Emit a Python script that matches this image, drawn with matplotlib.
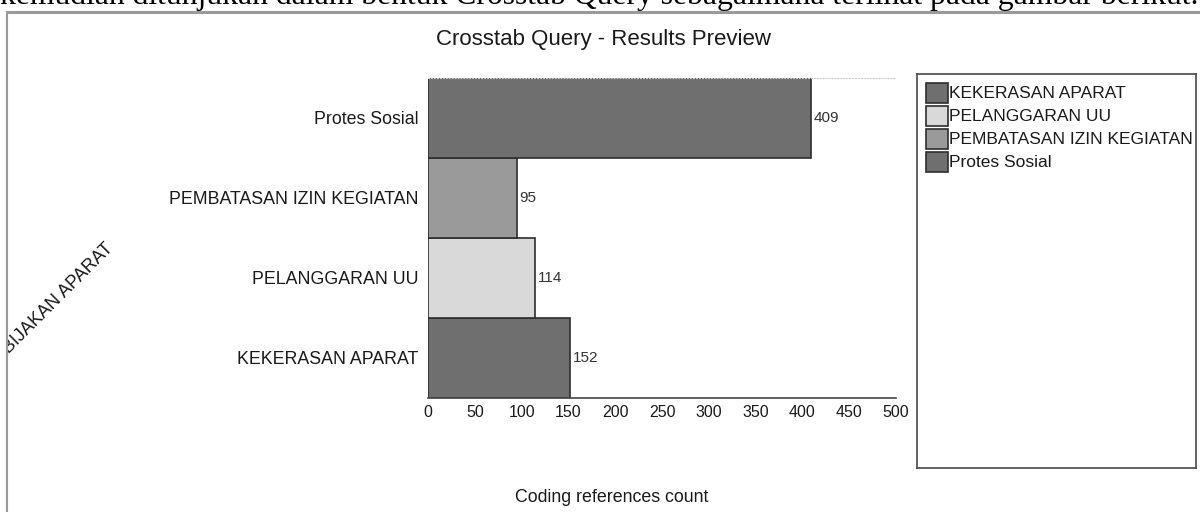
import numpy as np
import matplotlib.pyplot as plt
from matplotlib.patches import Rectangle
from matplotlib.lines import Line2D

plt.rcParams['font.family'] = ['Liberation Sans', 'DejaVu Sans']

# data -------------------------------------------------------------
categories = ['KEKERASAN APARAT', 'PELANGGARAN UU', 'PEMBATASAN IZIN KEGIATAN', 'Protes Sosial']
counts = [152, 114, 95, 409]
colors = ['#6f6f6f', '#d9d9d9', '#9a9a9a', '#6f6f6f']
legend_labels = ['KEKERASAN APARAT', 'PELANGGARAN UU', 'PEMBATASAN IZIN KEGIATAN', 'Protes Sosial']
xticks = [0, 50, 100, 150, 200, 250, 300, 350, 400, 450, 500]

W, H = 1200, 512
fig = plt.figure(figsize=(W / 100, H / 100), dpi=100)
fig.patch.set_facecolor('white')

def px(x0, y0, x1, y1):
    # pixel box (top-left origin) -> figure fraction rect
    return [x0 / W, 1 - y1 / H, (x1 - x0) / W, (y1 - y0) / H]

# background / frame axes (used for clipping of the cut text)
bg = fig.add_axes(px(8, 13, 1200, 512))
bg.set_xlim(0, 1)
bg.set_ylim(0, 1)
bg.axis('off')

# document text at the very top, cut by the figure edge
fig.text(0.0, 1 - 4 / H,
         'kemudian ditunjukan dalam bentuk Crosstab Query sebagaimana terlihat pada gambar berikut.',
         family='Liberation Serif', fontsize=22.8, ha='left', va='baseline', color='black')

# frame lines of the screenshot window
fig.add_artist(Line2D([7 / W, 1], [1 - 12 / H, 1 - 12 / H], color='#9a9a9a', lw=2.2))
fig.add_artist(Line2D([7 / W, 7 / W], [0, 1 - 12 / H], color='#9a9a9a', lw=1.5))

fig.text(604 / W, 1 - 40 / H, 'Crosstab Query - Results Preview',
         fontsize=16, ha='center', va='center', color='#1a1a1a')

# main bar chart -------------------------------------------------------
ax = fig.add_axes(px(428, 78, 896, 398))
y = np.arange(len(categories))
bars = ax.barh(y, counts, height=1.0, color=colors, edgecolor='#2e2e2e', linewidth=1.2)
ax.set_xlim(0, 500)
ax.set_ylim(-0.5, len(categories) - 0.5)
ax.set_xticks(xticks)
ax.set_xticklabels([str(t) for t in xticks], fontsize=11.5, color='#1a1a1a')
ax.set_yticks(y)
ax.set_yticklabels(categories, fontsize=12.8, color='#1a1a1a')
ax.tick_params(axis='x', length=0, pad=5)
ax.tick_params(axis='y', length=0, pad=7)
for s in ['left', 'right']:
    ax.spines[s].set_visible(False)
ax.spines['top'].set_color('#cccccc')
ax.spines['top'].set_linestyle(':')
ax.spines['top'].set_linewidth(0.8)
ax.spines['bottom'].set_color('#444444')
ax.spines['bottom'].set_linewidth(1.2)
for b, v in zip(bars, counts):
    ax.text(v + 3, b.get_y() + b.get_height() / 2, str(v),
            fontsize=11, va='center', ha='left', color='#333333')

fig.text(612 / W, 1 - 497 / H, 'Coding references count',
         fontsize=12.8, ha='center', va='center', color='#1a1a1a')

# rotated y-axis title, cut by the frame on the left
bg.text((111 - 8) / 1192, (512 - 246) / 499, 'KEBIJAKAN APARAT', rotation=45,
        rotation_mode='anchor', ha='right', va='center', fontsize=13,
        color='#1a1a1a', clip_on=True, transform=bg.transAxes)

# legend box, drawn by hand so the long label gets cut at the edge -------
lg = fig.add_axes(px(917, 74, 1196, 468))
lg.set_xlim(0, 279)
lg.set_ylim(394, 0)
lg.set_xticks([])
lg.set_yticks([])
for s in lg.spines.values():
    s.set_color('#555555')
    s.set_linewidth(1.3)
for i, (lab, c) in enumerate(zip(legend_labels, colors)):
    yc = 19 + i * 23
    lg.add_patch(Rectangle((9, yc - 10), 22, 20, facecolor=c, edgecolor='#2e2e2e', lw=1.2))
    lg.text(32, yc, lab, fontsize=12.5, va='center', ha='left', color='#1a1a1a', clip_on=True)

fig.savefig('out.png', dpi=100, facecolor='white')
